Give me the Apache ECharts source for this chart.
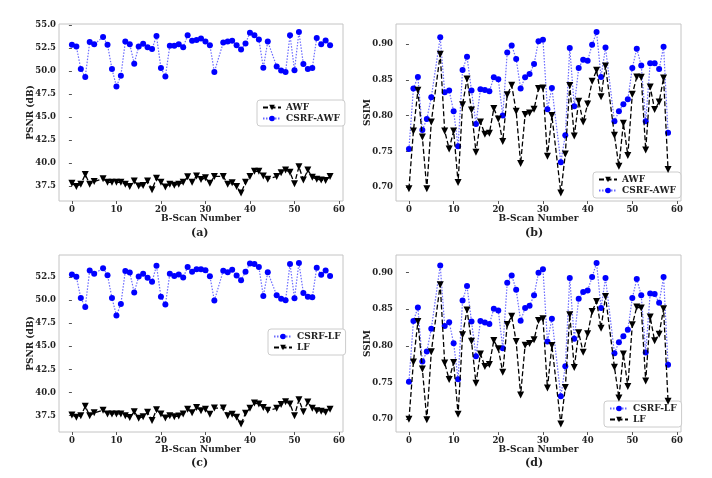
<!DOCTYPE html>
<html><head><meta charset="utf-8">
<script src="https://cdn.jsdelivr.net/npm/echarts@6/dist/echarts.min.js"></script>
<style>html,body{margin:0;padding:0;background:#fff}#c{width:712px;height:478px}</style>
</head><body><div id="c"></div>
<script>
var bscan = [0,1,2,3,4,5,6,7,8,9,10,11,12,13,14,15,16,17,18,19,20,21,22,23,24,25,26,27,28,29,30,31,32,33,34,35,36,37,38,39,40,41,42,43,44,45,46,47,48,49,50,51,52,53,54,55,56,57,58];
var xTicks = [0,10,20,30,40,50,60];
var psnrTicksA = [37.5,40.0,42.5,45.0,47.5,50.0,52.5,55.0];
var psnrTicksC = [37.5,40.0,42.5,45.0,47.5,50.0,52.5];
var ssimTicks = [0.70,0.75,0.80,0.85,0.90];

var psnrAWF = [37.8,37.45,37.7,38.75,37.7,38.0,null,38.3,37.9,37.9,37.9,37.9,37.7,37.45,38.05,37.5,37.55,38.05,37.1,38.35,37.9,37.4,37.7,37.6,37.7,37.9,38.5,37.9,38.6,38.2,38.4,37.8,38.55,null,38.55,37.7,37.85,37.45,36.75,37.9,38.55,39.1,39.1,38.6,38.25,null,38.55,38.95,39.25,39.0,37.75,39.6,38.15,39.25,38.45,38.25,38.15,38.1,38.55];
var psnrCSRFAWF = [52.86,52.68,50.22,49.35,53.15,52.9,null,53.7,52.86,50.22,48.33,49.5,53.2,52.9,50.8,52.68,52.97,52.6,52.4,53.8,50.33,49.4,52.75,52.75,52.9,52.6,53.88,53.3,53.37,53.55,53.2,52.8,49.9,null,53.1,53.2,53.3,52.8,52.35,53.0,54.17,53.88,53.44,50.36,53.2,null,50.5,50.07,49.9,53.9,50.1,54.24,50.76,50.22,50.33,53.6,52.9,53.33,52.8];
var ssimAWF = [0.698,0.7786,0.8353,0.770,0.6977,0.791,null,0.8856,0.7786,0.7535,0.7786,0.7065,0.8153,0.8512,0.808,0.749,0.7912,0.774,0.7753,0.810,0.7953,0.764,0.8293,0.8423,0.806,0.733,0.8014,0.8037,0.809,0.8377,0.8386,0.7433,0.800,null,0.692,0.7465,0.8419,0.7714,0.820,0.791,0.8163,0.8479,0.8633,0.8265,0.8693,null,0.7726,0.7293,0.7893,0.7444,0.830,0.854,0.8535,0.7521,0.840,0.8084,0.819,0.8526,0.7247];
var ssimCSRFAWF = [0.7535,0.8377,0.854,0.780,0.7953,0.8256,null,0.9093,0.8326,0.835,0.806,0.7572,0.8637,0.8823,0.835,0.7884,0.8367,0.8358,0.834,0.8535,0.8507,0.800,0.888,0.898,0.879,0.838,0.8535,0.858,0.872,0.904,0.906,0.809,0.8386,null,0.7349,0.7726,0.8944,0.813,0.8665,0.878,0.8767,0.899,0.9167,0.854,0.895,null,0.792,0.806,0.816,0.823,0.8665,0.8935,0.870,0.792,0.873,0.873,0.865,0.896,0.776];
var psnrLF = [37.57,37.32,37.5,38.5,37.5,37.8,null,38.07,37.68,37.68,37.68,37.68,37.5,37.29,37.93,37.21,37.39,37.86,36.96,38.14,37.68,37.25,37.5,37.39,37.46,37.68,38.2,37.8,38.39,38.04,38.2,37.64,38.32,null,38.32,37.5,37.64,37.32,36.6,37.75,38.29,38.86,38.75,38.39,38.07,null,38.29,38.71,39.0,38.75,37.5,39.21,37.93,38.96,38.29,38.04,37.96,37.86,38.2];
var psnrCSRFLF = [52.75,52.5,50.2,49.24,53.19,52.83,null,53.44,52.68,50.2,48.33,49.57,53.12,52.97,50.8,52.54,52.83,52.4,51.96,53.7,50.36,49.5,52.83,52.6,52.75,52.43,53.55,53.04,53.33,53.33,53.22,52.57,49.93,null,53.15,53.0,53.26,52.65,52.14,53.04,53.95,53.88,53.55,50.43,53.0,null,50.5,50.14,49.96,53.9,50.18,53.99,50.76,50.36,50.29,53.48,52.72,53.19,52.6];
var ssimLF = [0.6995,0.778,0.8333,0.7685,0.699,0.7918,null,0.8836,0.7767,0.7539,0.7772,0.7064,0.815,0.8489,0.8064,0.7489,0.789,0.7717,0.7744,0.8073,0.7959,0.7639,0.8292,0.8406,0.806,0.7329,0.8009,0.8032,0.8082,0.8347,0.837,0.7425,0.8005,null,0.6932,0.743,0.8425,0.7703,0.8178,0.7913,0.8164,0.847,0.8607,0.8242,0.8676,null,0.7708,0.7288,0.789,0.7443,0.8288,0.853,0.8516,0.752,0.8393,0.8068,0.816,0.8507,0.7242];
var ssimCSRFLF = [0.751,0.8338,0.8525,0.7785,0.7922,0.8233,null,0.910,0.827,0.8324,0.8037,0.7543,0.862,0.8817,0.8333,0.7858,0.8338,0.832,0.8297,0.8507,0.8484,0.7968,0.8863,0.8963,0.8767,0.8342,0.8516,0.8548,0.869,0.900,0.9046,0.806,0.837,null,0.731,0.7721,0.8927,0.8096,0.8644,0.8735,0.8758,0.894,0.9132,0.8516,0.8927,null,0.790,0.805,0.8132,0.822,0.8653,0.8913,0.869,0.7909,0.8717,0.8708,0.8589,0.894,0.774];

var FONT = 'DejaVu Serif';
function pairs(vals){var o=[];for(var i=0;i<bscan.length;i++){if(vals[i]!==null&&vals[i]!==undefined)o.push([bscan[i],vals[i]]);}return o;}
function lims(arrs){var mn=Infinity,mx=-Infinity;arrs.forEach(function(a){a.forEach(function(v){if(v!==null){mn=Math.min(mn,v);mx=Math.max(mx,v);}});});var m=(mx-mn)*0.05;return [mn-m,mx+m];}
var xr=[bscan[0]-(bscan[bscan.length-1]-bscan[0])*0.05, bscan[bscan.length-1]+(bscan[bscan.length-1]-bscan[0])*0.05];

var grids=[
 {left:59,top:24,width:284,height:177},
 {left:396,top:24,width:285,height:177},
 {left:59,top:255,width:284,height:177},
 {left:396,top:255,width:285,height:177}
];
var tickLbl={fontFamily:FONT,fontWeight:'bold',fontSize:8.5,color:'#222'};
function xAxis(i){return {type:'value',gridIndex:i,min:xr[0],max:xr[1],name:'B-Scan Number',nameLocation:'middle',nameGap:13,nameMoveOverlap:false,
 nameTextStyle:{fontFamily:FONT,fontWeight:'bold',fontSize:9,color:'#222'},
 axisLine:{show:false},splitLine:{show:false},
 axisTick:{show:true,length:3,lineStyle:{color:'#555'},customValues:xTicks},
 axisLabel:Object.assign({margin:4,customValues:xTicks},tickLbl)};}
function yAxis(i,r,ticks,dec,name,gap){return {type:'value',gridIndex:i,min:r[0],max:r[1],name:name,nameLocation:'middle',nameGap:gap,nameMoveOverlap:false,
 nameTextStyle:{fontFamily:FONT,fontWeight:'bold',fontSize:9,color:'#222'},
 axisLine:{show:false},splitLine:{show:false},
 axisTick:{show:true,length:3,lineStyle:{color:'#555'},customValues:ticks},
 axisLabel:Object.assign({margin:3,customValues:ticks,formatter:function(v){return v.toFixed(dec);}},tickLbl)};}

function blue(name,vals,xi){return {name:name,type:'line',xAxisIndex:xi,yAxisIndex:xi,data:pairs(vals),symbol:'circle',symbolSize:6,
 itemStyle:{color:'#0000ff'},lineStyle:{color:'#3a3aff',width:1.2,type:[1.5,1.5],opacity:0.75},z:3,animation:false};}
function black(name,vals,xi){return {name:name,type:'line',xAxisIndex:xi,yAxisIndex:xi,data:pairs(vals),symbol:'triangle',symbolRotate:180,symbolSize:7,
 itemStyle:{color:'#000'},lineStyle:{color:'#000',width:1.3,type:[5,2.5]},z:4,animation:false};}

function legend(left,top,data){return {left:left,top:top,orient:'vertical',data:data,itemWidth:18,itemHeight:7,itemGap:2,
 padding:[3,5,3,5],borderColor:'#ccc',borderWidth:1,borderRadius:3,backgroundColor:'#fff',
 textStyle:{fontFamily:FONT,fontWeight:'bold',fontSize:9,color:'#222'}};}

var rA=lims([psnrAWF,psnrCSRFAWF]), rB=lims([ssimAWF,ssimCSRFAWF]), rC=lims([psnrLF,psnrCSRFLF]), rD=lims([ssimLF,ssimCSRFLF]);
var titleStyle={fontFamily:FONT,fontWeight:'bold',fontSize:11,color:'#222'};
var option={
 animation:false,
 grid:grids.map(function(g){return Object.assign({show:true,borderColor:'#c4c4c4',borderWidth:1,backgroundColor:'#fff'},g);}),
 xAxis:[xAxis(0),xAxis(1),xAxis(2),xAxis(3)],
 yAxis:[yAxis(0,rA,psnrTicksA,1,'PSNR (dB)',24),yAxis(1,rB,ssimTicks,2,'SSIM',24),yAxis(2,rC,psnrTicksC,1,'PSNR (dB)',24),yAxis(3,rD,ssimTicks,2,'SSIM',24)],
 legend:[legend(257,100,['AWF','CSRF-AWF']),legend(593,172,['AWF','CSRF-AWF']),legend(268,329,['CSRF-LF','LF']),legend(604,401,['CSRF-LF','LF'])],
 title:[
  {text:'(a)',left:191,top:228,textStyle:titleStyle,padding:0},
  {text:'(b)',left:525,top:228,textStyle:titleStyle,padding:0},
  {text:'(c)',left:191,top:458,textStyle:titleStyle,padding:0},
  {text:'(d)',left:525,top:458,textStyle:titleStyle,padding:0}
 ],
 series:[
  black('AWF',psnrAWF,0),blue('CSRF-AWF',psnrCSRFAWF,0),
  black('AWF',ssimAWF,1),blue('CSRF-AWF',ssimCSRFAWF,1),
  blue('CSRF-LF',psnrCSRFLF,2),black('LF',psnrLF,2),
  blue('CSRF-LF',ssimCSRFLF,3),black('LF',ssimLF,3)
 ]
};
var ch=echarts.init(document.getElementById('c'),null,{renderer:'canvas'});
ch.setOption(option);
</script></body></html>
